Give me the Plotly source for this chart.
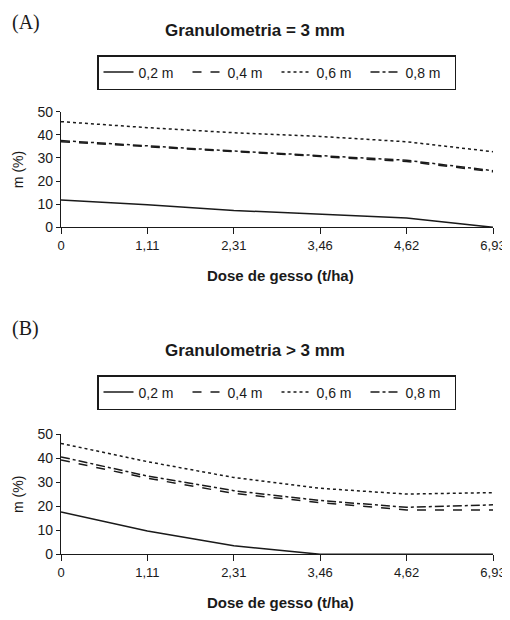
import plotly.graph_objects as go

doses = ["0", "1,11", "2,31", "3,46", "4,62", "6,93"]
series_names = ["0,2 m", "0,4 m", "0,6 m", "0,8 m"]
dash_styles = ["solid", "dash", "dot", "dashdot"]

# Panel A: Granulometria = 3 mm
a_02 = [11.8, 9.8, 7.3, 5.8, 4.0, 0.0]
a_04 = [37.0, 34.8, 32.5, 30.6, 28.5, 24.0]
a_06 = [45.7, 43.1, 40.9, 39.3, 37.0, 32.7]
a_08 = [37.5, 35.2, 33.0, 31.0, 29.0, 24.5]

# Panel B: Granulometria > 3 mm
b_02 = [17.6, 9.7, 3.6, 0.0, 0.0, 0.0]
b_04 = [39.3, 31.7, 25.4, 21.5, 18.5, 18.5]
b_06 = [46.2, 38.6, 32.0, 27.5, 25.1, 25.7]
b_08 = [40.6, 32.6, 26.5, 22.4, 19.6, 20.6]

OFF = 8  # page body margin
W, H = 510 - OFF, 620 - OFF
font_family = "Liberation Sans, Arial, sans-serif"
ink = "#1a1a1a"

fig = go.Figure()

for vals, name, dash in zip([a_02, a_04, a_06, a_08], series_names, dash_styles):
    fig.add_trace(go.Scatter(x=doses, y=vals, name=name, mode="lines",
                             line=dict(color=ink, width=1.5, dash=dash),
                             xaxis="x", yaxis="y", legend="legend"))
for vals, name, dash in zip([b_02, b_04, b_06, b_08], series_names, dash_styles):
    fig.add_trace(go.Scatter(x=doses, y=vals, name=name, mode="lines",
                             line=dict(color=ink, width=1.5, dash=dash),
                             xaxis="x2", yaxis="y2", legend="legend2"))

def px_x(p):
    return (p - OFF) / W

def px_y(p):
    return 1 - (p - OFF) / H

xdom = [px_x(61), px_x(493)]
axis_common = dict(showline=True, linecolor=ink, linewidth=1.2, ticks="outside",
                   tickcolor=ink, ticklen=4, showgrid=False, zeroline=False,
                   automargin=False,
                   tickfont=dict(family=font_family, size=13, color=ink))

xa = dict(axis_common, type="category", range=[0, 5], domain=xdom, ticklen=6)
ya = dict(axis_common, range=[0, 50], dtick=10,
          tickfont=dict(family=font_family, size=14, color=ink),
          title=dict(text="m (%)", font=dict(family=font_family, size=14, color=ink),
                     standoff=10))

legend_common = dict(orientation="h", xanchor="left", yanchor="top",
                     bordercolor=ink, borderwidth=1.5, bgcolor="white",
                     font=dict(family=font_family, size=14, color=ink),
                     itemwidth=30, tracegroupgap=0, entrywidth=44)

def note(text, x, y, size, family=font_family, xanchor="center"):
    return dict(text=text, x=px_x(x), y=px_y(y), xref="paper", yref="paper",
                xanchor=xanchor, yanchor="middle", showarrow=False,
                font=dict(family=family, size=size, color=ink))

serif = "Liberation Serif, Times New Roman, serif"

fig.update_layout(
    width=W, height=H,
    margin=dict(l=0, r=0, t=0, b=0),
    paper_bgcolor="white", plot_bgcolor="white",
    font=dict(family=font_family, color=ink),
    xaxis=dict(xa, anchor="y"),
    yaxis=dict(ya, domain=[px_y(227.3), px_y(111.7)], anchor="x"),
    xaxis2=dict(xa, anchor="y2"),
    yaxis2=dict(ya, domain=[px_y(554.3), px_y(434.3)], anchor="x2"),
    legend=dict(legend_common, x=px_x(97), y=px_y(55)),
    legend2=dict(legend_common, x=px_x(97), y=px_y(375)),
    annotations=[
        note("(A)", 10, 22, 20, serif, "left"),
        note("<b>Granulometria = 3 mm</b>", 255, 31, 17),
        note("<b>Dose de gesso (t/ha)</b>", 280, 275, 15),
        note("(B)", 10, 328, 20, serif, "left"),
        note("<b>Granulometria > 3 mm</b>", 255, 350, 17),
        note("<b>Dose de gesso (t/ha)</b>", 280, 602, 15),
    ],
)

fig.write_html("out.html")
